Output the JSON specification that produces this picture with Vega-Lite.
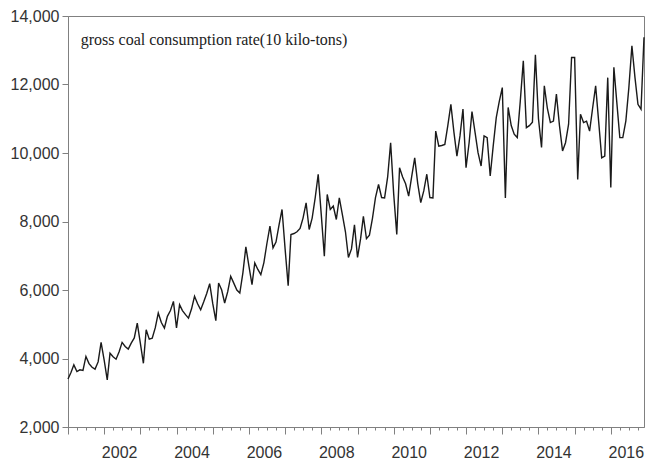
{
"$schema": "https://vega.github.io/schema/vega-lite/v6.json",
"width": 576, "height": 411,
"autosize": {"type": "none"},
"padding": {"left": 68, "top": 16, "right": 1, "bottom": 34},
"background": "white",
"config": {"view": {"stroke": "#808080", "strokeWidth": 1}, "axis": {"grid": false}},
"datasets": {"coal": [
{"date":"2001/01/01","value":3400},{"date":"2001/02/01","value":3600},{"date":"2001/03/01","value":3815},{"date":"2001/04/01","value":3620},{"date":"2001/05/01","value":3670},{"date":"2001/06/01","value":3650},{"date":"2001/07/01","value":4060},{"date":"2001/08/01","value":3850},{"date":"2001/09/01","value":3745},{"date":"2001/10/01","value":3690},{"date":"2001/11/01","value":3900},{"date":"2001/12/01","value":4470},
{"date":"2002/01/01","value":3950},{"date":"2002/02/01","value":3375},{"date":"2002/03/01","value":4155},{"date":"2002/04/01","value":4050},{"date":"2002/05/01","value":3980},{"date":"2002/06/01","value":4200},{"date":"2002/07/01","value":4470},{"date":"2002/08/01","value":4350},{"date":"2002/09/01","value":4275},{"date":"2002/10/01","value":4450},{"date":"2002/11/01","value":4600},{"date":"2002/12/01","value":5035},
{"date":"2003/01/01","value":4450},{"date":"2003/02/01","value":3860},{"date":"2003/03/01","value":4840},{"date":"2003/04/01","value":4565},{"date":"2003/05/01","value":4590},{"date":"2003/06/01","value":4900},{"date":"2003/07/01","value":5327},{"date":"2003/08/01","value":5050},{"date":"2003/09/01","value":4890},{"date":"2003/10/01","value":5230},{"date":"2003/11/01","value":5400},{"date":"2003/12/01","value":5668},
{"date":"2004/01/01","value":4890},{"date":"2004/02/01","value":5570},{"date":"2004/03/01","value":5400},{"date":"2004/04/01","value":5280},{"date":"2004/05/01","value":5180},{"date":"2004/06/01","value":5450},{"date":"2004/07/01","value":5815},{"date":"2004/08/01","value":5600},{"date":"2004/09/01","value":5424},{"date":"2004/10/01","value":5650},{"date":"2004/11/01","value":5900},{"date":"2004/12/01","value":6185},
{"date":"2005/01/01","value":5600},{"date":"2005/02/01","value":5103},{"date":"2005/03/01","value":6205},{"date":"2005/04/01","value":6000},{"date":"2005/05/01","value":5620},{"date":"2005/06/01","value":5950},{"date":"2005/07/01","value":6400},{"date":"2005/08/01","value":6200},{"date":"2005/09/01","value":6000},{"date":"2005/10/01","value":5912},{"date":"2005/11/01","value":6500},{"date":"2005/12/01","value":7259},
{"date":"2006/01/01","value":6700},{"date":"2006/02/01","value":6156},{"date":"2006/03/01","value":6790},{"date":"2006/04/01","value":6600},{"date":"2006/05/01","value":6450},{"date":"2006/06/01","value":6800},{"date":"2006/07/01","value":7350},{"date":"2006/08/01","value":7864},{"date":"2006/09/01","value":7230},{"date":"2006/10/01","value":7400},{"date":"2006/11/01","value":7900},{"date":"2006/12/01","value":8352},
{"date":"2007/01/01","value":7200},{"date":"2007/02/01","value":6127},{"date":"2007/03/01","value":7620},{"date":"2007/04/01","value":7650},{"date":"2007/05/01","value":7700},{"date":"2007/06/01","value":7800},{"date":"2007/07/01","value":8100},{"date":"2007/08/01","value":8547},{"date":"2007/09/01","value":7766},{"date":"2007/10/01","value":8100},{"date":"2007/11/01","value":8700},{"date":"2007/12/01","value":9376},
{"date":"2008/01/01","value":8200},{"date":"2008/02/01","value":6985},{"date":"2008/03/01","value":8790},{"date":"2008/04/01","value":8352},{"date":"2008/05/01","value":8450},{"date":"2008/06/01","value":8059},{"date":"2008/07/01","value":8693},{"date":"2008/08/01","value":8200},{"date":"2008/09/01","value":7700},{"date":"2008/10/01","value":6950},{"date":"2008/11/01","value":7200},{"date":"2008/12/01","value":7900},
{"date":"2009/01/01","value":6950},{"date":"2009/02/01","value":7500},{"date":"2009/03/01","value":8150},{"date":"2009/04/01","value":7500},{"date":"2009/05/01","value":7600},{"date":"2009/06/01","value":8100},{"date":"2009/07/01","value":8700},{"date":"2009/08/01","value":9080},{"date":"2009/09/01","value":8700},{"date":"2009/10/01","value":8690},{"date":"2009/11/01","value":9300},{"date":"2009/12/01","value":10300},
{"date":"2010/01/01","value":8800},{"date":"2010/02/01","value":7620},{"date":"2010/03/01","value":9570},{"date":"2010/04/01","value":9300},{"date":"2010/05/01","value":9100},{"date":"2010/06/01","value":8740},{"date":"2010/07/01","value":9300},{"date":"2010/08/01","value":9860},{"date":"2010/09/01","value":9100},{"date":"2010/10/01","value":8550},{"date":"2010/11/01","value":8900},{"date":"2010/12/01","value":9380},
{"date":"2011/01/01","value":8700},{"date":"2011/02/01","value":8690},{"date":"2011/03/01","value":10640},{"date":"2011/04/01","value":10200},{"date":"2011/05/01","value":10220},{"date":"2011/06/01","value":10250},{"date":"2011/07/01","value":10800},{"date":"2011/08/01","value":11420},{"date":"2011/09/01","value":10600},{"date":"2011/10/01","value":9910},{"date":"2011/11/01","value":10500},{"date":"2011/12/01","value":11280},
{"date":"2012/01/01","value":9570},{"date":"2012/02/01","value":10300},{"date":"2012/03/01","value":11210},{"date":"2012/04/01","value":10600},{"date":"2012/05/01","value":10010},{"date":"2012/06/01","value":9620},{"date":"2012/07/01","value":10500},{"date":"2012/08/01","value":10450},{"date":"2012/09/01","value":9330},{"date":"2012/10/01","value":10200},{"date":"2012/11/01","value":11030},{"date":"2012/12/01","value":11500},
{"date":"2013/01/01","value":11910},{"date":"2013/02/01","value":8690},{"date":"2013/03/01","value":11330},{"date":"2013/04/01","value":10800},{"date":"2013/05/01","value":10550},{"date":"2013/06/01","value":10450},{"date":"2013/07/01","value":11500},{"date":"2013/08/01","value":12690},{"date":"2013/09/01","value":10740},{"date":"2013/10/01","value":10800},{"date":"2013/11/01","value":10900},{"date":"2013/12/01","value":12870},
{"date":"2014/01/01","value":11000},{"date":"2014/02/01","value":10160},{"date":"2014/03/01","value":11960},{"date":"2014/04/01","value":11300},{"date":"2014/05/01","value":10890},{"date":"2014/06/01","value":10930},{"date":"2014/07/01","value":11720},{"date":"2014/08/01","value":10800},{"date":"2014/09/01","value":10060},{"date":"2014/10/01","value":10300},{"date":"2014/11/01","value":10840},{"date":"2014/12/01","value":12790},
{"date":"2015/01/01","value":12790},{"date":"2015/02/01","value":9230},{"date":"2015/03/01","value":11130},{"date":"2015/04/01","value":10890},{"date":"2015/05/01","value":10930},{"date":"2015/06/01","value":10640},{"date":"2015/07/01","value":11300},{"date":"2015/08/01","value":11960},{"date":"2015/09/01","value":10900},{"date":"2015/10/01","value":9860},{"date":"2015/11/01","value":9910},{"date":"2015/12/01","value":12200},
{"date":"2016/01/01","value":8990},{"date":"2016/02/01","value":12500},{"date":"2016/03/01","value":11500},{"date":"2016/04/01","value":10450},{"date":"2016/05/01","value":10450},{"date":"2016/06/01","value":10940},{"date":"2016/07/01","value":11900},{"date":"2016/08/01","value":13130},{"date":"2016/09/01","value":12200},{"date":"2016/10/01","value":11420},{"date":"2016/11/01","value":11280},{"date":"2016/12/01","value":13380}
]},
"layer": [
{"data": {"name": "coal"},
 "mark": {"type": "line", "color": "#1a1a1a", "strokeWidth": 1.4},
 "encoding": {
  "x": {"field": "date", "type": "temporal",
        "scale": {"domain": [{"year": 2001, "month": 1, "date": 1}, {"year": 2016, "month": 12, "date": 1}]},
        "axis": {"title": null, "tickCount": {"interval": "month", "step": 3},
                 "labelExpr": "month(datum.value) == 0 && year(datum.value) % 2 == 0 ? timeFormat(datum.value, '%Y') : ''",
                 "labelOffset": 15, "labelOverlap": false, "labelBound": false, "labelFlush": false,
                 "tickSize": {"condition": {"test": "month(datum.value) == 0", "value": 7}, "value": 3},
                 "labelPadding": 10, "labelFont": "Liberation Sans", "labelFontSize": 16, "labelColor": "#333333",
                 "tickColor": "#808080", "domainColor": "#808080"}},
  "y": {"field": "value", "type": "quantitative",
        "scale": {"domain": [2000, 14000], "nice": false, "zero": false},
        "axis": {"title": null, "values": [2000, 4000, 6000, 8000, 10000, 12000, 14000], "format": ",d",
                 "tickSize": 6, "labelPadding": 3, "labelFont": "Liberation Sans", "labelFontSize": 16,
                 "labelColor": "#333333", "tickColor": "#808080", "domainColor": "#808080"}}
 }},
{"data": {"values": [{"label": "gross coal consumption rate(10 kilo-tons)"}]},
 "mark": {"type": "text", "font": "Liberation Serif", "fontSize": 16, "align": "left", "baseline": "middle", "color": "#222222"},
 "encoding": {
  "x": {"datum": {"year": 2001, "month": 5, "date": 10}, "type": "temporal"},
  "y": {"datum": 13300, "type": "quantitative"},
  "text": {"field": "label"}
 }}
]
}
